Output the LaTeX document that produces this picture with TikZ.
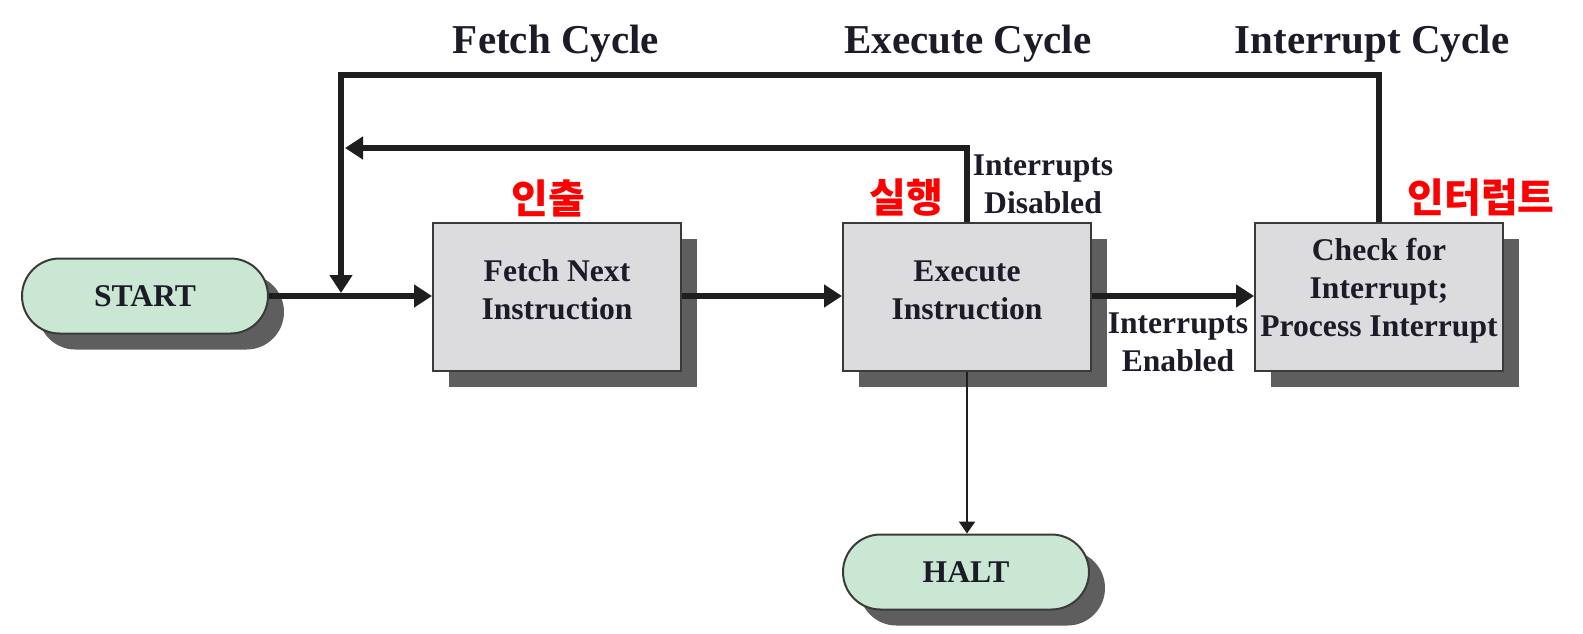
\documentclass[tikz,border=0pt]{standalone}
\usepackage{fontspec}
\setmainfont{Liberation Serif}
\newfontfamily\krfont{Noto Sans CJK KR}
\usetikzlibrary{arrows.meta,shapes.misc,shadows}
\definecolor{boxfill}{HTML}{DCDCDE}
\definecolor{pillfill}{HTML}{C9E7D2}
\definecolor{shadowgray}{HTML}{5E5E5E}
\definecolor{edgegray}{HTML}{3A3A3A}
\definecolor{ink}{HTML}{1C1C28}
\definecolor{lineink}{HTML}{1E1E1E}
\newcommand\dgbody{\bfseries\fontsize{15.8pt}{19pt}\selectfont}
\newcommand\dgtitle{\bfseries\fontsize{20.5pt}{24pt}\selectfont}
\newcommand\dgkr{\krfont\bfseries\fontsize{20pt}{24pt}\selectfont}
\begin{document}
\begin{tikzpicture}[x=0.5pt,y=-0.5pt,
  boxshadow/.style={drop shadow={shadow xshift=8pt,shadow yshift=-8pt,fill=shadowgray,opacity=1}},
  procbox/.style={rectangle,draw=edgegray,line width=1pt,fill=boxfill,minimum width=124pt,minimum height=74pt,inner sep=0pt,align=center,text=ink,font=\dgbody,boxshadow},
  termpill/.style={rounded rectangle,draw=edgegray,line width=1pt,fill=pillfill,minimum width=123pt,minimum height=37.5pt,inner sep=0pt,text=ink,font=\dgbody,boxshadow},
  cycletitle/.style={anchor=base,inner sep=0pt,text=ink,font=\dgtitle},
  krlabel/.style={inner sep=0pt,text=red,font=\dgkr},
  sidelabel/.style={inner sep=0pt,align=center,text=ink,font=\dgbody},
  flowline/.style={line width=3.4pt,draw=lineink,line join=miter,-{Triangle[length=9pt,width=11pt]}},
  thinflow/.style={line width=1.2pt,draw=lineink,-{Triangle[length=6pt,width=8pt]}}
]
\useasboundingbox (0,0) rectangle (1583,633);

% titles
\node[cycletitle] (tfetch) at (556,53) {Fetch Cycle};
\node[cycletitle] (texec) at (968,53) {Execute Cycle};
\node[cycletitle] (tint) at (1372,53) {Interrupt Cycle};

% korean labels
\node[krlabel] (kfetch) at (548,198) {인출};
\node[krlabel] (kexec) at (906,198) {실행};
\node[krlabel] (kint) at (1481,198) {인터럽트};

% nodes
\node[termpill] (start) at (145,296) {START};
\node[procbox,text depth=7pt] (fetch) at (557,297) {Fetch Next\\Instruction};
\node[procbox,text depth=7pt] (exec) at (967,297) {Execute\\Instruction};
\node[procbox,text depth=9.5pt] (check) at (1379,297) {Check for\\Interrupt;\\Process Interrupt};
\node[termpill] (halt) at (966,572) {HALT};

% side labels
\node[sidelabel] (ldis) at (1043,184) {Interrupts\\Disabled};
\node[sidelabel] (len) at (1178,342) {Interrupts\\Enabled};

% helper coordinates
\coordinate (retTip) at (345,148);
\coordinate (topLeft) at (341,75);
\coordinate (joinTip) at (341,293);

% connectors
\draw[flowline] (start.east) -- (start.east -| fetch.west);
\draw[flowline] (fetch.east |- start.east) -- (exec.west |- start.east);
\draw[flowline] (exec.east |- start.east) -- (check.west |- start.east);
\draw[thinflow] (exec.south) -- (exec.south |- halt.north);
\draw[flowline] (exec.north) |- (retTip);
\draw[flowline] (check.north) |- (topLeft) -- (joinTip);
\end{tikzpicture}
\end{document}
